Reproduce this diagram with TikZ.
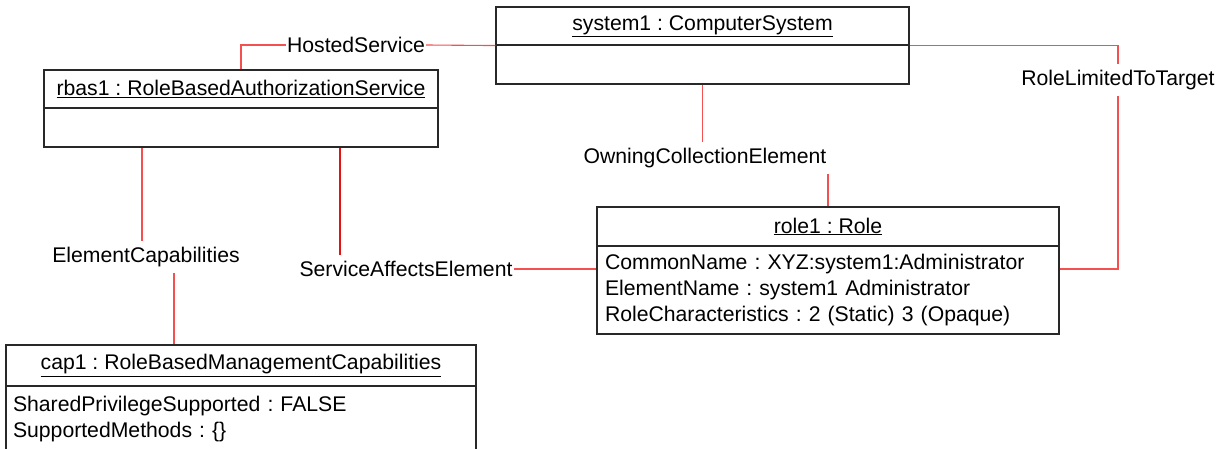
\documentclass[tikz,border=0pt]{standalone}
\usepackage{fontspec}
\setmainfont{Liberation Sans}
\definecolor{boxc}{RGB}{40,40,40}
\definecolor{assocc}{RGB}{245,80,80}
\definecolor{assocd}{RGB}{225,20,20}
\frenchspacing
\begin{document}
\begin{tikzpicture}[x=1pt,y=-1pt,
  font=\fontsize{21.2pt}{26pt}\selectfont\frenchspacing,
  hdr/.style={draw=boxc, line width=1.1pt, inner sep=0pt},
  emptybody/.style={draw=boxc, line width=1.1pt, inner sep=0pt},
  attrbody/.style={draw=boxc, line width=1.1pt, inner ysep=0pt, inner xsep=8pt, align=left},
  lbl/.style={inner xsep=1pt, inner ysep=6pt},
  assoc/.style={draw=assocc, line width=1.1pt},
  assocdark/.style={draw=assocd, line width=1.1pt}]
\useasboundingbox (0,0) rectangle (1228,449);
% classes
\node[hdr, minimum width=413pt, minimum height=38pt] (sysH) at (702.5,26) {\underline{system1 : ComputerSystem}};
\node[emptybody, minimum width=413pt, minimum height=39pt] (sysB) at (702.5,64.5) {};
\node[hdr, minimum width=394pt, minimum height=38pt] (rbasH) at (241,89) {\underline{rbas1 : RoleBasedAuthorizationService}};
\node[emptybody, minimum width=394pt, minimum height=39pt] (rbasB) at (241,127.5) {};
\node[hdr, minimum width=462pt, minimum height=39pt] (roleH) at (828,226.5) {\underline{role1 : Role}};
\node[attrbody, text width=446pt, minimum height=88pt] (roleB) at (828,290) {CommonName : XYZ:system1:Administrator\\ElementName : system1 Administrator\\RoleCharacteristics : 2 (Static) 3 (Opaque)};
\node[hdr, minimum width=470pt, minimum height=41pt] (capH) at (241,365.5) {\underline{cap1 : RoleBasedManagementCapabilities}};
\node[attrbody, inner xsep=7pt, text width=456pt, minimum height=66pt] (capB) at (241,419) {SharedPrivilegeSupported : FALSE\\SupportedMethods : \{\}};
% association labels
\node[lbl] (hs) at (356,45) {HostedService};
\node[lbl] (oce) at (705,158) {OwningCollectionElement};
\node[lbl] (ec) at (146,257) {ElementCapabilities};
\node[lbl] (sae) at (406,269) {ServiceAffectsElement};
\node[lbl] (rlt) at (1118,80) {RoleLimitedToTarget};
% connectors
\draw[assoc] (rbasH.north) |- (hs.west);
\draw[assoc] (hs.east) -- (sysH.south west);
\draw[assoc] (sysB.south) -- (sysB.south |- oce.north);
\draw[assoc] (oce.south -| roleH.north) -- (roleH.north);
\draw[assoc] ([xshift=-4pt]ec.north) -- ([xshift=-4pt]ec.north |- rbasB.south);
\draw[assoc] ([xshift=28pt]ec.south) -- ([xshift=28pt]ec.south |- capH.north);
\draw[assocdark] ([xshift=-66pt]sae.north) -- ([xshift=-66pt]sae.north |- rbasB.south);
\draw[assoc] (sae.east) -- (sae.east -| roleB.west);
\draw[assoc] (sysH.south east) -| (rlt.north);
\draw[assoc] (rlt.south) |- (sae.east -| roleB.east);
\end{tikzpicture}
\end{document}
